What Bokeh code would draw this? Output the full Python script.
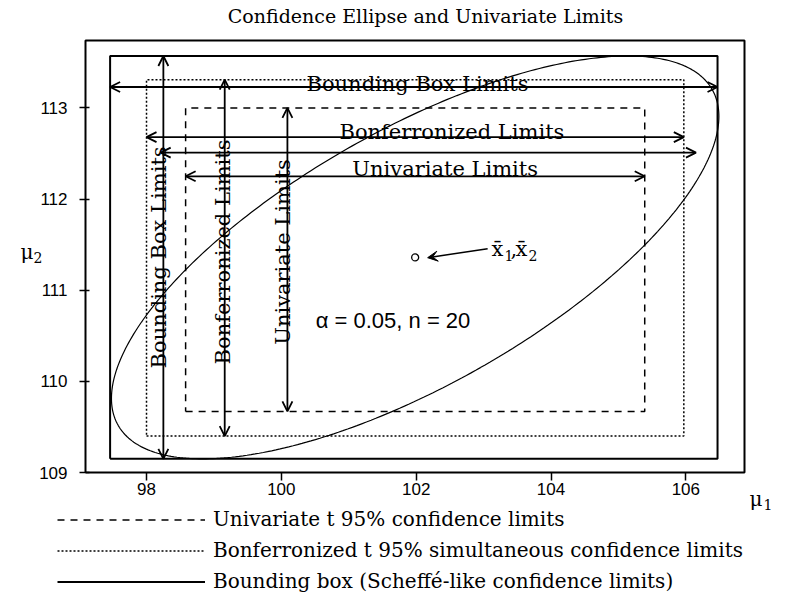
import numpy as np
from bokeh.plotting import figure
from bokeh.models import (Range1d, FixedTicker, ColumnDataSource, Arrow, OpenHead,
                          VeeHead, Legend, LegendItem)
from bokeh.core.properties import value
from bokeh.embed import file_html
from bokeh.resources import INLINE

# ---------------- data ----------------
mean_x = 101.985            # sample mean of mu1
mean_y = 111.36             # sample mean of mu2
univ_x = [98.58, 105.39]    # univariate t 95% limits (mu1)
univ_y = [109.67, 113.00]   # univariate t 95% limits (mu2)
bonf_x = [98.00, 105.97]    # Bonferronized limits (mu1)
bonf_y = [109.40, 113.31]   # Bonferronized limits (mu2)
bbox_x = [97.46, 106.47]    # bounding box limits (mu1)
bbox_y = [109.15, 113.57]   # bounding box limits (mu2)
ellipse_corr = 0.70         # correlation shaping the confidence ellipse
axis_x = [97.095, 106.87]   # extent of the plotting box (mu1)
axis_y = [109.0, 113.74]    # extent of the plotting box (mu2)
x_ticks = [98, 100, 102, 104, 106]
y_ticks = [109, 110, 111, 112, 113]
legend_labels = ["Univariate t 95% confidence limits",
                 "Bonferronized t 95% simultaneous confidence limits",
                 "Bounding box (Scheffé-like confidence limits)"]
title_text = "Confidence Ellipse and Univariate Limits"
note_text = "\u03b1 = 0.05, n = 20"

SERIF = "DejaVu Serif"
SANS = "Liberation Sans"

# ---------------- layout: plotting box inside the canvas ----------------
W, H = 773, 600
BOX_L, BOX_R, BOX_T, BOX_B = 85, 744, 40, 472      # box edges in canvas pixels
ux = (axis_x[1] - axis_x[0]) / (BOX_R - BOX_L)      # data units per pixel
uy = (axis_y[1] - axis_y[0]) / (BOX_B - BOX_T)


def px_x(c):
    return axis_x[0] + (c - BOX_L) * ux


def px_y(r):
    return axis_y[1] - (r - BOX_T) * uy


p = figure(width=W, height=H, output_backend="svg", toolbar_location=None,
           x_range=Range1d(px_x(0), px_x(W)), y_range=Range1d(px_y(H), px_y(0)),
           min_border=0, min_border_left=0, min_border_right=0,
           min_border_top=0, min_border_bottom=0)
p.grid.visible = False
p.outline_line_color = None
p.background_fill_color = "white"
p.border_fill_color = "white"

for ax in (p.xaxis, p.yaxis):
    ax.axis_line_color = None
    ax.major_tick_line_color = "black"
    ax.major_tick_line_width = 1.5
    ax.minor_tick_line_color = None
    ax.major_label_text_font = SANS
    ax.major_label_text_font_size = "17px"
    ax.major_label_text_color = "black"
p.xaxis.fixed_location = axis_y[0]
p.yaxis.fixed_location = axis_x[0]
p.xaxis.ticker = FixedTicker(ticks=x_ticks)
p.yaxis.ticker = FixedTicker(ticks=y_ticks)
p.xaxis.major_tick_in = 0
p.xaxis.major_tick_out = 8
p.xaxis.major_label_standoff = 2
p.yaxis.major_tick_in = 4
p.yaxis.major_tick_out = 6
p.yaxis.major_label_standoff = 12


def box(xs, ys):
    return ([xs[0], xs[1], xs[1], xs[0], xs[0]],
            [ys[0], ys[0], ys[1], ys[1], ys[0]])


# plotting box
bx, by = box(axis_x, axis_y)
p.line(bx, by, line_color="black", line_width=2)

bx, by = box(univ_x, univ_y)
r_univ = p.line(bx, by, line_color="black", line_width=1.5, line_dash="7 6")
bx, by = box(bonf_x, bonf_y)
r_bonf = p.line(bx, by, line_color="black", line_width=1.5, line_dash="2 2")
bx, by = box(bbox_x, bbox_y)
r_bbox = p.line(bx, by, line_color="black", line_width=2)

# confidence ellipse, tangent to the bounding box
a = (bbox_x[1] - bbox_x[0]) / 2
b = (bbox_y[1] - bbox_y[0]) / 2
t = np.linspace(0, 2 * np.pi, 400)
ex = mean_x + a * np.cos(t)
ey = mean_y + b * (ellipse_corr * np.cos(t) + np.sqrt(1 - ellipse_corr ** 2) * np.sin(t))
p.line(ex, ey, line_color="black", line_width=1.2)

# mean point
p.scatter([mean_x], [mean_y], marker="circle", size=7, fill_color="white",
          line_color="black", line_width=1.3)

# double-headed limit arrows
arr = ColumnDataSource(dict(
    x0=[bbox_x[0], bonf_x[0], 98.21, univ_x[0], 98.25, 99.16, 100.09],
    x1=[bbox_x[1], bonf_x[1], 106.15, univ_x[1], 98.25, 99.16, 100.09],
    y0=[113.23, 112.68, 112.51, 112.25, bbox_y[1], bonf_y[1], univ_y[1]],
    y1=[113.23, 112.68, 112.51, 112.25, bbox_y[0], bonf_y[0], univ_y[0]],
))
p.add_layout(Arrow(source=arr, x_start="x0", y_start="y0", x_end="x1", y_end="y1",
                   line_color="black", line_width=1.8,
                   start=OpenHead(size=10, line_width=1.8, line_color="black"),
                   end=OpenHead(size=10, line_width=1.8, line_color="black")))

# pointer to the mean
p.add_layout(Arrow(x_start=103.06, y_start=111.456, x_end=102.17, y_end=111.357,
                   line_color="black", line_width=1.5,
                   end=VeeHead(size=10, fill_color="black", line_color="black")))

# horizontal labels
hl = ColumnDataSource(dict(
    x=[102.02, 102.53, 102.43],
    y=[113.267, 112.74, 112.33],
    t=["Bounding Box Limits", "Bonferronized Limits", "Univariate Limits"],
))
p.text("x", "y", "t", source=hl, text_font=value(SERIF), text_font_size="21px",
       text_align="center", text_baseline="alphabetic", text_color="black")

# vertical labels
vl = ColumnDataSource(dict(
    x=[98.18, 99.13, 100.03],
    y=[111.36, 111.42, 111.42],
    t=["Bounding Box Limits", "Bonferronized Limits", "Univariate Limits"],
))
p.text("x", "y", "t", source=vl, angle=np.pi / 2, text_font=value(SERIF),
       text_font_size="21px", text_align="center", text_baseline="alphabetic",
       text_color="black")

p.text([100.51], [110.665], [note_text], text_font=value(SANS), text_font_size="22px",
       text_align="left", text_baseline="middle", text_color="black")


def ptext(cx, cy, s, size, font=SERIF, align="left", baseline="alphabetic"):
    """Text placed at a canvas-pixel position around the plotting box."""
    p.text([px_x(cx)], [px_y(cy)], [s], text_font=value(font), text_font_size=size,
           text_align=align, text_baseline=baseline, text_color="black")


# mean label  x̄1, x̄2
ptext(491, 248, "x\u0304", "21px")
ptext(504, 255, "1", "14px")
ptext(510, 248, ",", "21px")
ptext(515, 248, "x\u0304", "21px")
ptext(528, 255, "2", "14px")

# title and axis names
ptext(425, 15, title_text, "19px", align="center", baseline="middle")
ptext(20, 251, "\u03bc", "20px")
ptext(33, 257, "2", "14px")
ptext(749, 498, "\u03bc", "20px")
ptext(763, 504, "1", "14px")

legend = Legend(items=[LegendItem(label=legend_labels[0], renderers=[r_univ]),
                       LegendItem(label=legend_labels[1], renderers=[r_bonf]),
                       LegendItem(label=legend_labels[2], renderers=[r_bbox])],
                location=(57, 7), orientation="vertical", glyph_width=148,
                glyph_height=23, label_height=23, label_standoff=8, spacing=7,
                padding=0, margin=0, border_line_color=None, background_fill_alpha=0,
                label_text_font=SERIF, label_text_font_size="20px",
                label_text_color="black")
p.add_layout(legend)

open("out.html", "w").write(file_html(p, INLINE))
